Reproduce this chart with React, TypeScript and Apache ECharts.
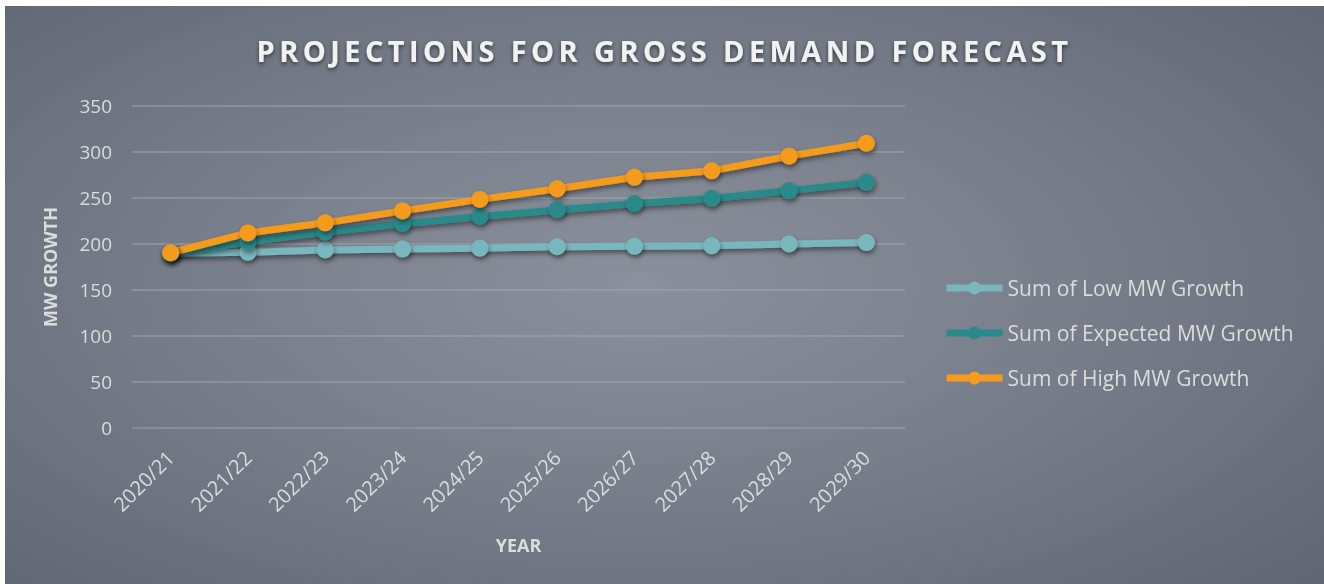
import React, { useEffect, useRef } from "react";
import * as echarts from "echarts";

const categories = ["2020/21", "2021/22", "2022/23", "2023/24", "2024/25", "2025/26", "2026/27", "2027/28", "2028/29", "2029/30"];
const lowGrowth = [190, 191, 193.5, 194.5, 195.5, 197, 197.5, 198, 200, 201.5];
const expectedGrowth = [190, 202.5, 213, 222, 230, 237, 244, 249.5, 258, 267];
const highGrowth = [190.5, 212, 223, 236, 248.5, 260, 272.5, 279.5, 295.5, 309.5];
const yTicks = { min: 0, max: 350, interval: 50 };

const FONT = "'Open Sans', 'Noto Sans', sans-serif";
const LABEL = "#dcdcdc";

export default function App() {
  const ref = useRef<HTMLDivElement>(null);
  useEffect(() => {
    if (!ref.current) return;
    const chart = echarts.init(ref.current, null, { renderer: "svg" });
    const mkSeries = (name: string, data: number[], color: string) => ({
      name,
      type: "line",
      data,
      symbol: "circle",
      symbolSize: 17,
      lineStyle: {
        width: 7,
        color,
        shadowColor: "rgba(0,0,0,0.45)",
        shadowBlur: 5,
        shadowOffsetX: 1,
        shadowOffsetY: 3,
      },
      itemStyle: {
        color,
        shadowColor: "rgba(0,0,0,0.45)",
        shadowBlur: 5,
        shadowOffsetX: 1,
        shadowOffsetY: 3,
      },
      emphasis: { disabled: true },
    });
    chart.setOption({
      animation: false,
      backgroundColor: "transparent",
      textStyle: { fontFamily: FONT },
      title: {
        text: "PROJECTIONS FOR GROSS DEMAND FORECAST",
        left: "center",
        top: 25,
        textStyle: {
          color: "#f2f2f2",
          fontSize: 29,
          fontWeight: "bold",
          fontFamily: FONT,
          textShadowColor: "rgba(0,0,0,0.55)",
          textShadowBlur: 4,
          textShadowOffsetY: 2,
        },
      },
      grid: { left: 127, right: 419, top: 100, bottom: 156 },
      legend: {
        orient: "vertical",
        left: 933,
        top: 265,
        itemWidth: 56,
        itemHeight: 16,
        itemGap: 21,
        lineStyle: { width: 7 },
        itemStyle: { shadowBlur: 0, shadowOffsetX: 0, shadowOffsetY: 0 },
        textStyle: { color: LABEL, fontSize: 21, fontFamily: FONT, lineHeight: 24 },
        data: ["Sum of Low MW Growth", "Sum of Expected MW Growth", "Sum of High MW Growth"],
      },
      xAxis: {
        type: "category",
        data: categories,
        boundaryGap: true,
        axisLine: { show: false },
        axisTick: { show: false },
        axisLabel: { rotate: 45, color: LABEL, fontSize: 20, margin: 26, fontFamily: FONT },
        name: "YEAR",
        nameLocation: "middle",
        nameGap: 108,
        nameTextStyle: { color: LABEL, fontSize: 18, fontWeight: "bold", fontFamily: FONT },
      },
      yAxis: {
        type: "value",
        min: yTicks.min,
        max: yTicks.max,
        interval: yTicks.interval,
        axisLine: { show: false },
        axisTick: { show: false },
        axisLabel: { color: LABEL, fontSize: 19, margin: 20, fontFamily: FONT },
        splitLine: { lineStyle: { color: "rgba(170,176,186,0.55)", width: 1.5 } },
        name: "MW GROWTH",
        nameLocation: "middle",
        nameGap: 73,
        nameRotate: 90,
        nameTextStyle: { color: LABEL, fontSize: 18, fontWeight: "bold", fontFamily: FONT },
      },
      series: [
        mkSeries("Sum of Low MW Growth", lowGrowth, "#79b7be"),
        mkSeries("Sum of Expected MW Growth", expectedGrowth, "#2b8a89"),
        mkSeries("Sum of High MW Growth", highGrowth, "#f59b1e"),
      ],
    });
    return () => chart.dispose();
  }, []);
  return (
    <>
      <style>{'.chartbox text[style*="29px"]{letter-spacing:4.4px}'}</style>
      <div
        className="chartbox"
        ref={ref}
        style={{
          position: "fixed",
          left: 5,
          top: 6,
          width: 1319,
          height: 578,
          background: "radial-gradient(ellipse 75% 80% at 48% 48%, #8b919c 0%, #737986 55%, #5d6370 100%)",
        }}
      />
    </>
  );
}
